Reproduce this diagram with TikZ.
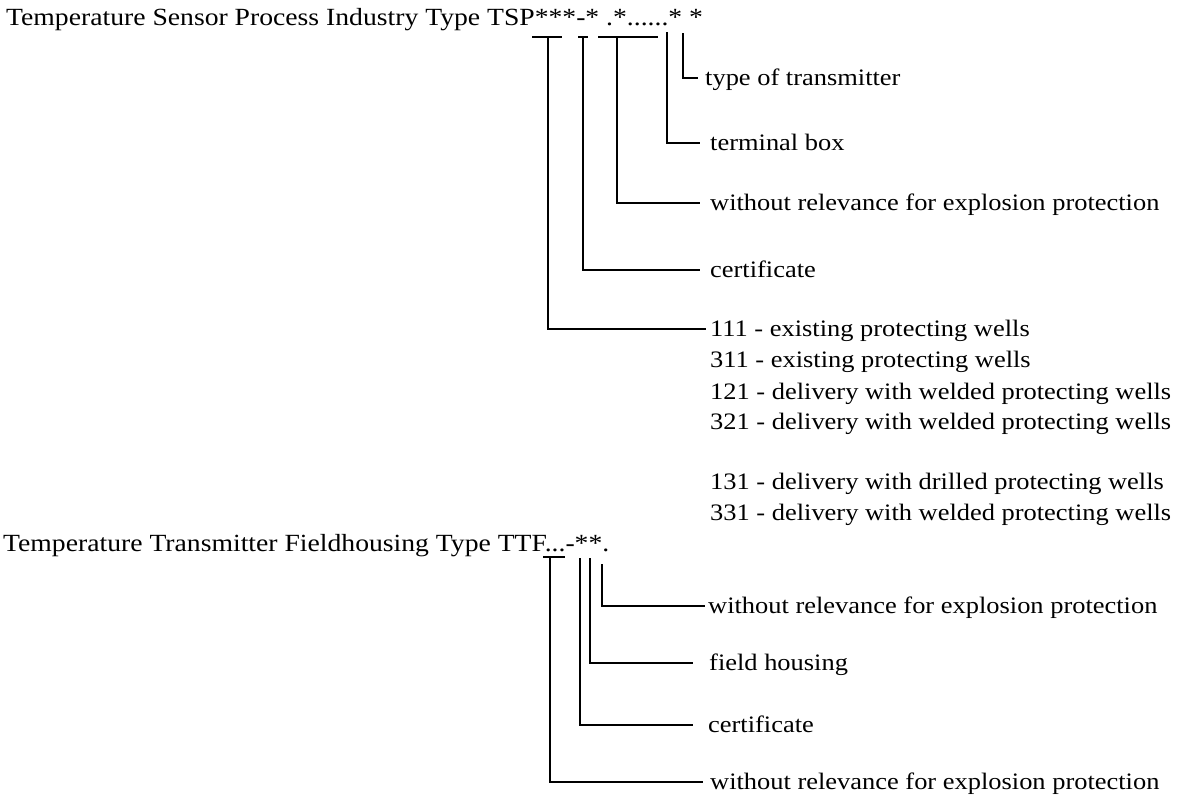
\documentclass[tikz,border=0pt]{standalone}
\usepackage{fontspec}
\setmainfont[FakeStretch=1.12]{Liberation Serif}
\begin{document}
\begin{tikzpicture}[x=1pt,y=-1pt,
  txt/.style={inner sep=0pt, font=\fontsize{24.7}{28}\selectfont},
  lbl/.style={inner sep=0pt, font=\fontsize{23.6}{28}\selectfont, anchor=west, text height=15pt, text depth=0pt},
  conn/.style={line width=2.6pt, line cap=butt, line join=miter}]
\useasboundingbox (0,0) rectangle (1178,796);

% ---------- top code ----------
\node[txt, anchor=base west] (title1) at (6,25) {Temperature Sensor Process Industry Type TSP***-* .*......* *};

\coordinate (a1l) at (532,37); \coordinate (a1r) at (562,37); \coordinate (a1) at (548,37);
\coordinate (a2l) at (578,37); \coordinate (a2r) at (588,37); \coordinate (a2) at (583,37);
\coordinate (a3l) at (598,37); \coordinate (a3r) at (658,37); \coordinate (a3) at (617,37);
\coordinate (a4) at (667,32);
\coordinate (a5) at (683,33);

\node[lbl] (tt)    at (705,78)  {type of transmitter};
\node[lbl] (tb)    at (710,143) {terminal box};
\node[lbl] (wr1)   at (710,203) {without relevance for explosion protection};
\node[lbl] (cert1) at (710,270) {certificate};
\node[lbl] (l111)  at (710,329) {111 - existing protecting wells};
\node[lbl] (l311)  at (710,360) {311 - existing protecting wells};
\node[lbl] (l121)  at (710,392) {121 - delivery with welded protecting wells};
\node[lbl] (l321)  at (710,422) {321 - delivery with welded protecting wells};
\node[lbl] (l131)  at (710,482) {131 - delivery with drilled protecting wells};
\node[lbl] (l331)  at (710,513) {331 - delivery with welded protecting wells};

\draw[conn] (a1l) -- (a1r);
\draw[conn] (a2l) -- (a2r);
\draw[conn] (a3l) -- (a3r);
\draw[conn, shorten >=7pt]  (a5) |- (tt.west);
\draw[conn, shorten >=10pt] (a4) |- (tb.west);
\draw[conn, shorten >=10pt] (a3) |- (wr1.west);
\draw[conn, shorten >=10pt] (a2) |- (cert1.west);
\draw[conn, shorten >=4pt]  (a1) |- (l111.west);

% ---------- bottom code ----------
\node[txt, anchor=base west] (title2) at (3,551) {Temperature Transmitter Fieldhousing Type TTF...-**.};

\coordinate (bAl) at (543,557); \coordinate (bAr) at (565,557); \coordinate (bA) at (550,557);
\coordinate (bB) at (580,558);
\coordinate (bC) at (590,558);
\coordinate (bD) at (602,564);

\node[lbl] (wr2)   at (708,606) {without relevance for explosion protection};
\node[lbl] (fh)    at (709,663) {field housing};
\node[lbl] (cert2) at (708,725) {certificate};
\node[lbl] (wr3)   at (710,782) {without relevance for explosion protection};

\draw[conn] (bAl) -- (bAr);
\draw[conn, shorten >=3pt]  (bD) |- (wr2.west);
\draw[conn, shorten >=16pt] (bC) |- (fh.west);
\draw[conn, shorten >=15pt] (bB) |- (cert2.west);
\draw[conn, shorten >=7pt]  (bA) |- (wr3.west);
\end{tikzpicture}
\end{document}
